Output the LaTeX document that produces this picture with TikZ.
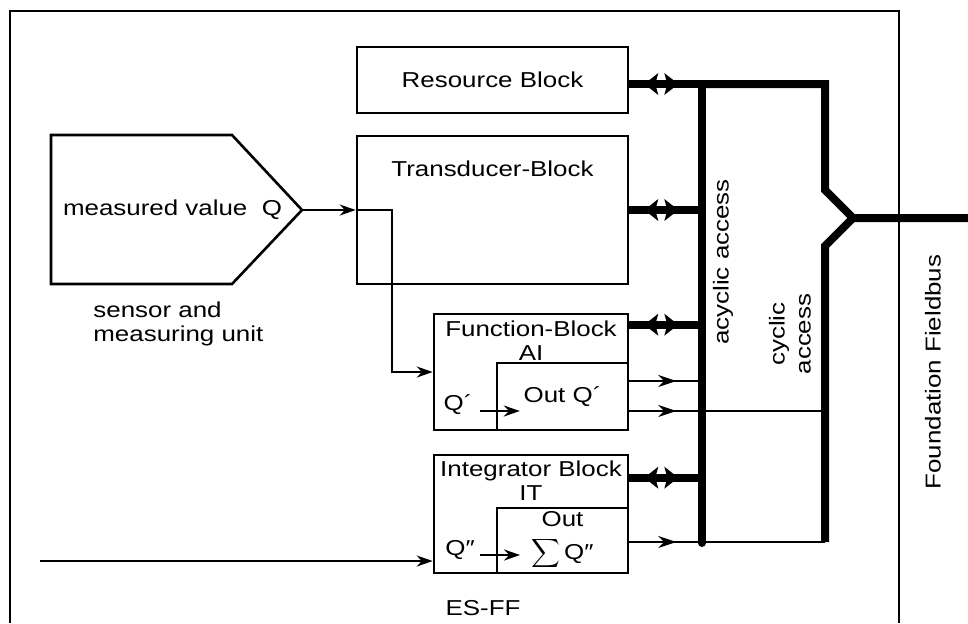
\documentclass[tikz,border=0pt]{standalone}
\usepackage{fontspec}
\setmainfont{Liberation Sans}[FakeStretch=1.2]
\usetikzlibrary{arrows.meta, positioning, decorations.markings}

\begin{document}
\begin{tikzpicture}[
    x=0.5pt, y=-0.5pt,
    every node/.style={font=\fontsize{10.8pt}{12pt}\selectfont},
    block/.style={rectangle, draw, line width=1.3pt, inner sep=3pt},
    tag/.style={inner sep=1pt},
    sig/.style={line width=1.2pt, -{Stealth[length=8pt, width=5.5pt]}},
    outarrow/.style={line width=1pt, postaction={decorate}, decoration={markings,
        mark=at position 23.5pt with {\arrow{Stealth[length=9pt, width=6pt]}}}},
    bus/.style={line width=4pt}
  ]
    \useasboundingbox (0,0) rectangle (968,623);

    % device frame
    \draw[line width=1.2pt] (10,623) -- (10,11) -- (899,11) -- (899,623);

    % sensor
    \draw[line width=1.3pt] (51,135) -- (232,135) -- (302,210) coordinate (tip) -- (232,284) -- (51,284) -- cycle;
    \node (meas) at (172.5,210) {measured value\ \ Q};
    \node[tag, align=left, anchor=north west] (senslbl) at (91,299) {sensor and\\measuring unit};

    % blocks
    \node[block, minimum width=135.5pt, minimum height=33pt] (res) at (492.5,80) {Resource Block};
    \node[block, minimum width=135.5pt, minimum height=74pt] (tdc) at (492.5,210) {};
    \node[tag, below=12pt of tdc.north] (tdctxt) {Transducer-Block};

    \node[block, minimum width=97pt, minimum height=58pt] (fb) at (531,372) {};
    \node[tag, align=center, below=3pt of fb.north] (fbtxt) {Function-Block\\AI};
    \node[block, minimum width=65.5pt, minimum height=33.5pt] (fbout) at (562.5,396.5) {Out Q´};
    \node[tag] (qa) at (458,405) {Q´};

    \node[block, minimum width=97pt, minimum height=59pt] (it) at (531,514) {};
    \node[tag, align=center, below=2.5pt of it.north] (ittxt) {Integrator Block\\IT};
    \node[block, align=center, inner sep=0pt, minimum width=65.5pt, minimum height=32.5pt] (itout) at (562.5,540.5) {Out\\[4.5pt]$\displaystyle\sum$\,Q″};
    \node[tag] (qb) at (460,550) {Q″};

    % bus points
    \coordinate (acTop) at (702,84);
    \coordinate (acBot) at (702,543);
    \coordinate (cyTop) at (825,84);
    \coordinate (cyBot) at (825,542);
    \coordinate (fork) at (853,218);
    \coordinate (fbus) at (968,218);
    \coordinate (src) at (40,561);

    % signals
    \draw[sig] (tip) -- (tip -| tdc.west);
    \draw[sig] (tip -| tdc.west) -- ++(36,0) |- (fb.west);
    \draw[sig] ([xshift=2.5pt, yshift=-3pt]qa.east) -- ++(20pt,0);
    \draw[sig] ([xshift=1.5pt, yshift=-2.5pt]qb.east) -- ++(20pt,0);
    \draw[sig] (src) -- (src -| it.west);

    % buses
    \draw[bus, line cap=round] (acTop) -- (acBot);
    \draw[bus] (acTop) -- (cyTop) -- ++(0,106) -- (fork) -- (fbus);
    \draw[bus] (fork) -- ++(-28,28) -- (cyBot);

    % acyclic links with double tips
    \coordinate (rsd) at ([yshift=-2pt]res.east);
    \coordinate (tdd) at (tdc.east);
    \coordinate (fbd) at ([yshift=-6pt]fb.north east);
    \coordinate (itd) at ([yshift=-12pt]it.north east);
    \foreach \p in {rsd, tdd, fbd, itd} {
      \draw[bus] (\p) -- (\p -| acTop);
      \fill ([xshift=7.5pt]\p) -- ++(7pt,5.5pt) -- ++(-1.5pt,-5.5pt) -- ++(1.5pt,-5.5pt) -- cycle;
      \fill ([xshift=24.5pt]\p) -- ++(-7pt,5.5pt) -- ++(1.5pt,-5.5pt) -- ++(-1.5pt,-5.5pt) -- cycle;
    }

    % cyclic outputs
    \coordinate (q1) at ([yshift=7.75pt]fbout.east);
    \coordinate (q2) at ([yshift=-7.25pt]fbout.east);
    \coordinate (q3) at ([yshift=-0.75pt]itout.east);
    \draw[outarrow] (q1) -- (q1 -| acTop);
    \draw[outarrow] (q2) -- (q2 -| cyTop);
    \draw[outarrow] (q3) -- (q3 -| cyBot);

    % labels
    \node[rotate=90] (aclbl) at (723,262) {acyclic access};
    \node[rotate=90, align=center] (cylbl) at (790,334) {cyclic\\[1pt]access};
    \node[rotate=90] (fflbl) at (933,372) {Foundation Fieldbus};
    \node (eslbl) at (483,608) {ES-FF};
\end{tikzpicture}
\end{document}
